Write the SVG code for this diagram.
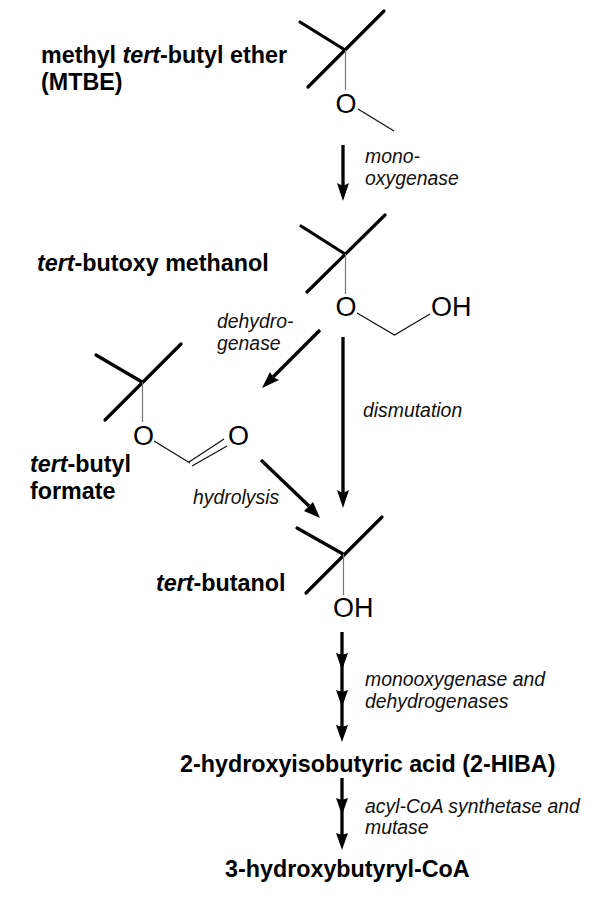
<svg xmlns="http://www.w3.org/2000/svg" width="600" height="897" viewBox="0 0 600 897">
<style>
.b{font:bold 23.3px "Liberation Sans",Arial,sans-serif;fill:#000}
.i{font:italic 19.4px "Liberation Sans",Arial,sans-serif;fill:#111}
.a{font:27px "Liberation Sans",Arial,sans-serif;fill:#000}
.k{stroke:#000;stroke-width:3.2;fill:none;stroke-linecap:round}
.t{stroke:#777;stroke-width:1.2;fill:none}
.n{stroke:#111;stroke-width:1.2;fill:none}
.r{stroke:#000;stroke-width:3.3;fill:none}
.h{fill:#000}
</style>
<rect width="600" height="897" fill="#fff"/>
<g id="mtbe">
<path class="k" d="M300 22L345 50M384 11L308 87"/><path class="t" d="M345.500 50V90"/>
<text class="a" x="335.500" y="113">O</text><path class="n" d="M358 109L394 131"/>
<text class="b" x="41" y="63">methyl <tspan font-style="italic">tert</tspan>-butyl ether</text>
<text class="b" x="41" y="90">(MTBE)</text>
</g>
<g id="tert-butoxy-methanol">
<path class="k" d="M301 226L345 254M385 215L307 292"/><path class="t" d="M345.500 254V294"/>
<text class="a" x="335.500" y="316">O</text><path class="n" d="M357 313L394.500 335L430 314"/>
<text class="a" x="431" y="316">OH</text>
<text class="b" x="37" y="271"><tspan font-style="italic">tert</tspan>-butoxy methanol</text>
</g>
<g id="tert-butyl-formate">
<path class="k" d="M96 355L142 382M181 344L105 420"/><path class="t" d="M142.500 382V422"/>
<text class="a" x="133" y="445">O</text><path class="n" d="M154 441L190 463M192 466L227 446M189 462L224 439"/>
<text class="a" x="228" y="445">O</text>
<text class="b" x="30" y="472"><tspan font-style="italic">tert</tspan>-butyl</text>
<text class="b" x="30" y="499">formate</text>
</g>
<g id="tert-butanol">
<path class="k" d="M297 528L343 554M382 517L306 593"/><path class="t" d="M343.500 554V595"/>
<text class="a" x="333" y="617">OH</text>
<text class="b" x="156" y="591"><tspan font-style="italic">tert</tspan>-butanol</text>
</g>
<g id="hiba"><text class="b" x="180" y="772">2-hydroxyisobutyric acid (2-HIBA)</text></g>
<g id="coa"><text class="b" x="225" y="877">3-hydroxybutyryl-CoA</text></g>
<g id="connectors">
<path class="r" d="M343 145V187"/><path class="h" d="M343 201L337 183L343 186L349 183Z"/>
<path class="r" d="M320 330L273 377"/><path class="h" d="M262 388L270 372L273 377L279 380Z"/>
<path class="r" d="M261 460L309 506"/><path class="h" d="M320 518L304 511L309 506L313 502Z"/>
<path class="r" d="M343 337V494"/><path class="h" d="M343 508L337 490L343 493L349 490Z"/>
<path class="r" d="M342 632V730"/>
<path class="h" d="M342 670L336 653L342 655L348 653ZM342 707L336 690L342 692L348 690ZM342 742L336 725L342 727L348 725Z"/>
<path class="r" d="M342 778V835"/>
<path class="h" d="M342 815L336 798L342 800L348 798ZM342 850L336 833L342 835L348 833Z"/>
</g>
<g id="labels">
<text class="i" x="365" y="163">mono-</text><text class="i" x="365" y="185">oxygenase</text>
<text class="i" x="217" y="328">dehydro-</text><text class="i" x="217" y="350">genase</text>
<text class="i" x="363" y="417">dismutation</text>
<text class="i" x="193" y="504">hydrolysis</text>
<text class="i" x="365" y="686">monooxygenase and</text><text class="i" x="365" y="708">dehydrogenases</text>
<text class="i" x="365" y="813">acyl-CoA synthetase and</text><text class="i" x="365" y="834">mutase</text>
</g>
</svg>
